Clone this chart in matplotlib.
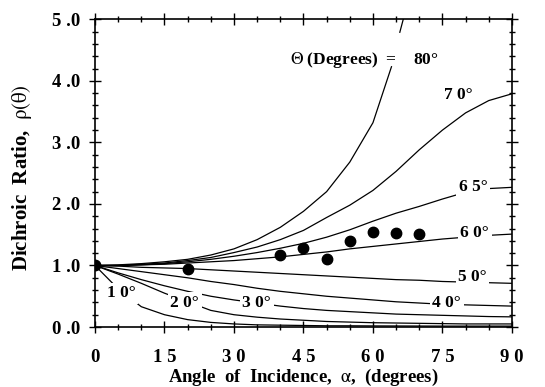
import matplotlib
matplotlib.use('Agg')
import matplotlib.pyplot as plt
from matplotlib.ticker import MultipleLocator, FixedLocator

plt.rcParams['font.family'] = ['Liberation Serif', 'DejaVu Serif']
plt.rcParams['mathtext.fontset'] = 'stix'

# angle of incidence grid (degrees)
alpha = [0, 5, 10, 15, 20, 25, 30, 35, 40, 45, 50, 55, 60, 65, 70, 75, 80, 85, 90]

# dichroic ratio curves, one per tilt angle Theta
# 80 deg curve is drawn in two pieces (broken by its label)
alpha_80_lo = [0, 5, 10, 15, 20, 25, 30, 35, 40, 45, 50, 55, 60, 64]
rho_80_lo = [1.0, 1.01, 1.03, 1.06, 1.10, 1.17, 1.27, 1.42, 1.62, 1.88, 2.20, 2.68, 3.32, 4.23]
alpha_80_hi = [65.8, 67.6]
rho_80_hi = [4.79, 5.3]
rho_70 = [1.0, 1.0, 1.02, 1.04, 1.08, 1.13, 1.21, 1.30, 1.42, 1.57, 1.78, 1.98, 2.22, 2.53, 2.88,
          3.20, 3.48, 3.68, 3.79]
rho_65 = [1.0, 1.0, 1.01, 1.03, 1.06, 1.10, 1.15, 1.21, 1.28, 1.36, 1.46, 1.58, 1.72, 1.85, 1.96,
          2.08, 2.19, 2.25, 2.27]
rho_60 = [1.0, 1.0, 1.01, 1.02, 1.04, 1.06, 1.08, 1.11, 1.14, 1.18, 1.22, 1.27, 1.31, 1.35, 1.39,
          1.43, 1.46, 1.49, 1.51]
rho_50 = [1.0, 0.99, 0.97, 0.96, 0.95, 0.93, 0.91, 0.89, 0.87, 0.85, 0.83, 0.81, 0.79, 0.77, 0.76,
          0.74, 0.73, 0.72, 0.71]
rho_40 = [1.0, 0.95, 0.90, 0.85, 0.80, 0.74, 0.69, 0.63, 0.58, 0.54, 0.50, 0.47, 0.44, 0.41, 0.39,
          0.37, 0.36, 0.35, 0.34]
rho_30 = [1.0, 0.88, 0.77, 0.67, 0.58, 0.50, 0.44, 0.39, 0.34, 0.30, 0.27, 0.25, 0.23, 0.21, 0.20,
          0.19, 0.18, 0.17, 0.165]
rho_20 = [1.0, 0.86, 0.71, 0.55, 0.41, 0.27, 0.20, 0.16, 0.13, 0.11, 0.09, 0.08, 0.07, 0.065, 0.06,
          0.055, 0.05, 0.05, 0.05]
rho_10 = [1.0, 0.62, 0.33, 0.20, 0.12, 0.075, 0.05, 0.035, 0.03, 0.025, 0.02, 0.02, 0.018, 0.017, 0.016,
          0.015, 0.015, 0.015, 0.015]

# measured points
alpha_obs = [0, 20, 40, 45, 50, 55, 60, 65, 70]
rho_obs = [1.0, 0.95, 1.17, 1.28, 1.10, 1.40, 1.55, 1.52, 1.51]

# curve labels: text, x, y
curve_labels = [("1 0°", 5.7, 0.55), ("2 0°", 19.4, 0.39), ("3 0°", 34.9, 0.39),
                ("4 0°", 75.9, 0.39), ("5 0°", 81.5, 0.81), ("6 0°", 82.0, 1.52),
                ("6 5°", 81.7, 2.28)]

fig = plt.figure(figsize=(5.45, 3.87), dpi=100)
ax = fig.add_axes([0.1743, 0.155, 0.765, 0.795])

for rho in [rho_70, rho_65, rho_60, rho_50, rho_40, rho_30, rho_20, rho_10]:
    ax.plot(alpha, rho, color='black', lw=0.9)
ax.plot(alpha_80_lo, rho_80_lo, color='black', lw=0.9)
ax.plot(alpha_80_hi, rho_80_hi, color='black', lw=0.9)

ax.plot(alpha_obs, rho_obs, 'o', color='black', ms=7.5, zorder=5)

for txt, x, y in curve_labels:
    ax.text(x, y, txt, ha='center', va='center', fontsize=12.5, fontweight='bold', zorder=4,
            bbox=dict(facecolor='white', edgecolor='none', boxstyle='square,pad=0.15'))
ax.text(78.5, 3.77, "7 0°", ha='center', va='center', fontsize=12.5, fontweight='bold')
ax.text(42, 4.34, r"$\Theta$ (Degrees)  =    80°", ha='left', va='center', fontsize=12.5,
        fontweight='bold', zorder=4)

ax.set_xlim(0, 90)
ax.set_ylim(0, 5)
ax.xaxis.set_major_locator(FixedLocator([0, 15, 30, 45, 60, 75, 90]))
ax.set_xticklabels(['0', '1 5', '3 0', '4 5', '6 0', '7 5', '9 0'])
ax.xaxis.set_minor_locator(MultipleLocator(5))
ax.yaxis.set_major_locator(FixedLocator([0, 1, 2, 3, 4, 5]))
ax.set_yticklabels(['0 .0', '1 .0', '2 .0', '3 .0', '4 .0', '5 .0'])
ax.yaxis.set_minor_locator(MultipleLocator(0.2))
ax.tick_params(which='both', direction='inout', top=True, right=True, width=1.0)
ax.tick_params(which='major', length=9, labelsize=13.5)
ax.tick_params(which='minor', length=5)
ax.tick_params(axis='x', which='major', pad=11)
ax.tick_params(axis='y', which='major', pad=6)
for lab in ax.get_xticklabels() + ax.get_yticklabels():
    lab.set_fontweight('bold')
for sp in ax.spines.values():
    sp.set_linewidth(1.2)

ax.set_xlabel(r"Angle  of  Incidence,  $\mathrm{\alpha}$,  (degrees)", fontsize=13.5,
              fontweight='bold', va='center')
ax.xaxis.set_label_coords(0.5, -0.163)
ax.set_ylabel(r"Dichroic  Ratio,  $\mathrm{\rho(\theta)}$", fontsize=15, fontweight='bold',
              va='center')
ax.yaxis.set_label_coords(-0.175, 0.485)

fig.savefig('out.png', dpi=100, facecolor='white')
